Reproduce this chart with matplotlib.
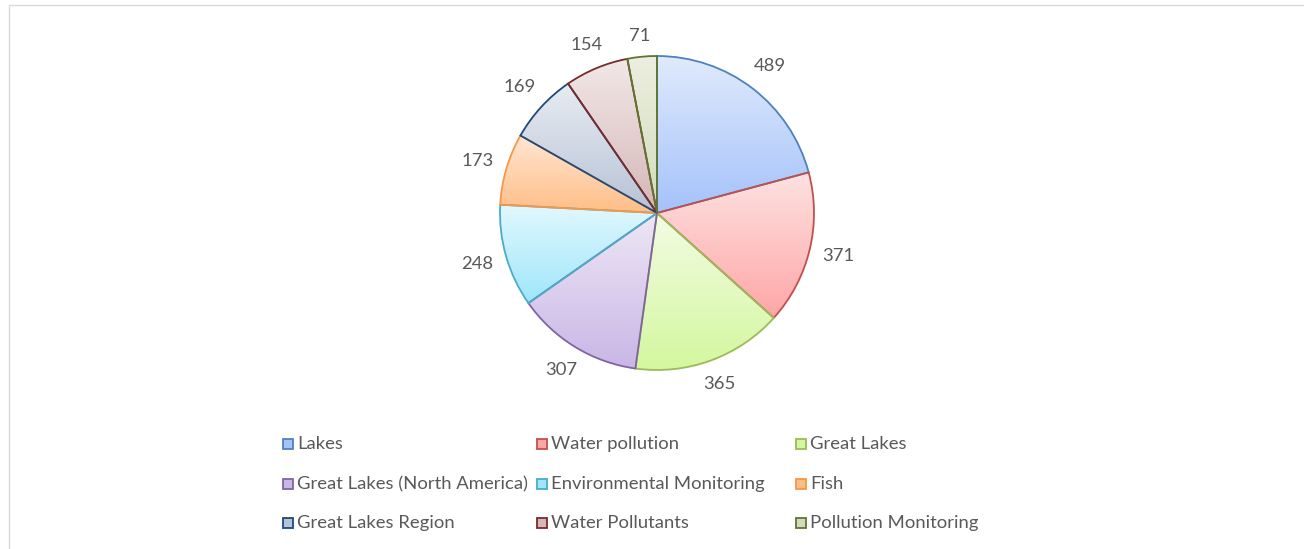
import matplotlib
matplotlib.use("Agg")
import matplotlib.pyplot as plt
import numpy as np
from matplotlib.colors import LinearSegmentedColormap
from matplotlib.patches import Rectangle

# dati del grafico
categorie = ["Lakes", "Water pollution", "Great Lakes",
             "Great Lakes (North America)", "Environmental Monitoring", "Fish",
             "Great Lakes Region", "Water Pollutants", "Pollution Monitoring"]
valori = [489, 371, 365, 307, 248, 173, 169, 154, 71]

# colori: bordo, riempimento chiaro (alto), riempimento scuro (basso)
bordi = ["#4f81bd", "#c0504d", "#9bbb59", "#8064a2", "#4bacc6", "#f79646",
         "#1f497d", "#772c2a", "#5f7530"]
chiari = ["#e0eafc", "#fde2e2", "#f2fce4", "#eee7f5", "#e2f8fe", "#ffe6d4",
          "#e8ecf2", "#f2e8e8", "#eceedf"]
scuri = ["#a4c2fa", "#ffa6a6", "#d4f79e", "#c9b6e6", "#9ee6fa", "#ffbe86",
         "#b6c2d6", "#d6b6b6", "#d2dcbc"]

grigio = "#595959"
font = "Lato"
fs = 13.3

W, H = 1304, 549
fig = plt.figure(figsize=(W / 100, H / 100), dpi=100)
fig.patch.set_facecolor("white")

# cornice grigia del grafico
fig.add_artist(Rectangle((8.5 / W, -0.1), 1.2, (H - 4.5) / H + 0.1,
                         transform=fig.transFigure, fill=False,
                         edgecolor="#d9d9d9", lw=1.0))

# asse della torta: centro (657, 213), raggio 157 px
cx, cy, R = 657, 213, 157
k = 1.35
ax = fig.add_axes([(cx - R * k) / W, (H - cy - R * k) / H, 2 * R * k / W, 2 * R * k / H])
ax.set_axis_off()

wedges, testi = ax.pie(valori, labels=[str(v) for v in valori], startangle=90,
                       counterclock=False, labeldistance=1.21,
                       wedgeprops=dict(linewidth=1.3),
                       textprops=dict(color=grigio, fontsize=fs, family=font))

for i, w in enumerate(wedges):
    w.set_edgecolor(bordi[i])
    w.set_facecolor("none")
    w.set_zorder(3)
    th = np.radians(np.linspace(w.theta1, w.theta2, 200))
    xs = np.r_[0, np.cos(th)]
    ys = np.r_[0, np.sin(th)]
    cmap = LinearSegmentedColormap.from_list("g%d" % i, [chiari[i], scuri[i]])
    grad = np.linspace(0, 1, 256).reshape(-1, 1)
    im = ax.imshow(grad, cmap=cmap, aspect="auto", origin="upper",
                   extent=[xs.min(), xs.max(), ys.min(), ys.max()], zorder=2)
    im.set_clip_path(w)

ax.set_xlim(-k, k)
ax.set_ylim(-k, k)

# etichette "outside end": il riquadro del testo sta a un distacco fisso dal bordo
fig.canvas.draw()
rend = fig.canvas.get_renderer()
distacco = 12
for w, t in zip(wedges, testi):
    t.set_horizontalalignment("center")
    t.set_verticalalignment("center")
    bb = t.get_window_extent(rend)
    a = np.radians((w.theta1 + w.theta2) / 2)
    d = (R + distacco + abs(np.cos(a)) * bb.width / 2 + abs(np.sin(a)) * bb.height / 2) / R
    t.set_position((d * np.cos(a), d * np.sin(a)))

# legenda manuale a 3 colonne
col_x = [283, 537, 796]
riga_y = [444, 484, 523]
lato = 10
for i, nome in enumerate(categorie):
    x = col_x[i % 3]
    y = riga_y[i // 3]
    fig.add_artist(Rectangle((x / W, (H - y - lato / 2) / H), lato / W, lato / H,
                             transform=fig.transFigure, facecolor=scuri[i],
                             edgecolor=bordi[i], lw=1.3))
    fig.text((x + 14) / W, (H - y) / H, nome, color=grigio, fontsize=fs,
             family=font, ha="left", va="center")

fig.savefig("out.png", dpi=100)
